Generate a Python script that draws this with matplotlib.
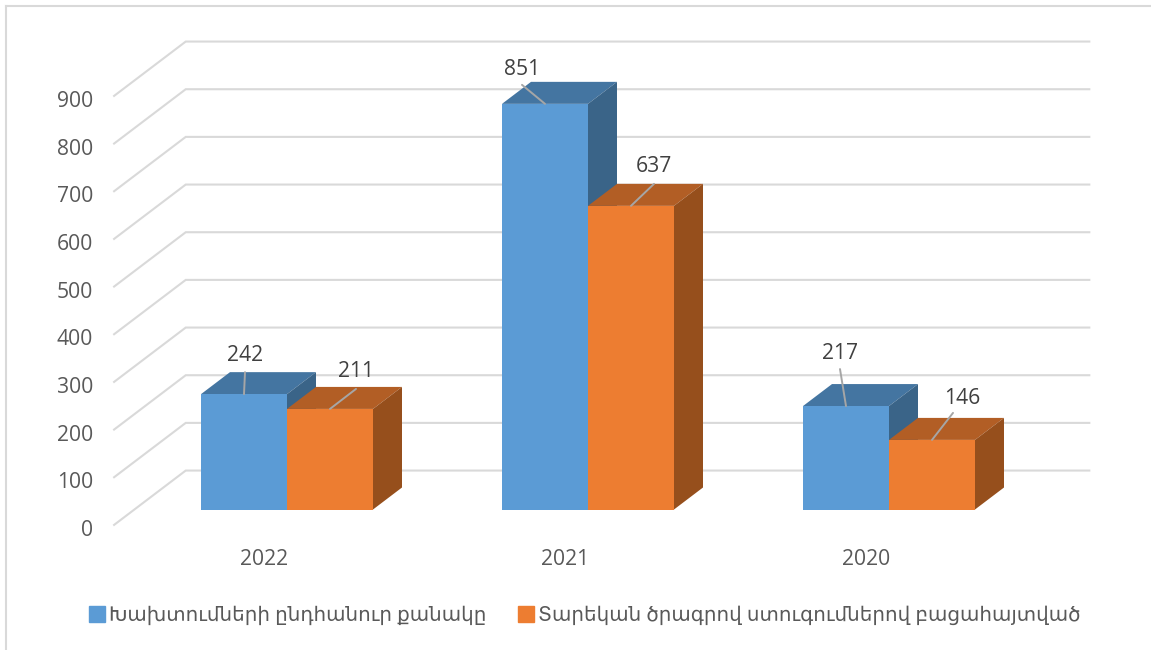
import matplotlib
matplotlib.use("Agg")
import matplotlib.pyplot as plt
from matplotlib.patches import Polygon, Patch

plt.rcParams['font.family'] = ['Open Sans', 'DejaVu Sans']

years = ['2022', '2021', '2020']
total = [242, 851, 217]
annual = [211, 637, 146]
series_names = ['Խախտումների ընդհանուր քանակը',
                'Տարեկան ծրագրով ստուգումներով բացահայտված']
y_ticks = [0, 100, 200, 300, 400, 500, 600, 700, 800, 900]

# label and leader offsets from the top centre of each bar, in pixels
total_label = [(1, 39), (-23, 34), (-6, 53)]
total_leader = [(1, 22), (-23, 19), (-6, 37)]
annual_label = [(26, 37), (23, 39), (30, 41)]
annual_leader = [(26, 20), (23, 22), (21, 27)]

blue = ['#5B9BD5', '#4475A1', '#3A6488']
orange = ['#ED7D31', '#B25E25', '#964F1C']
grid_col = '#D9D9D9'
text_col = '#404040'

px_x = 301.0      # pixels per category
px_y = 429 / 900  # pixels per value unit
bar_w = 86 / px_x
dep_x = 29 / px_x  # one bar depth along x
dep_y = 22 / px_y  # one bar depth along y

fig = plt.figure(figsize=(11.51, 6.5), dpi=100)
ax = fig.add_axes([0, 0, 1, 1])
ax.set_xlim(-287 / px_x, (1151 - 287) / px_x)
ax.set_ylim((509.5 - 650) / px_y, 509.5 / px_y)
ax.axis('off')

# grid: side wall and back wall
d_front, d_back = -0.70, 1.77
x_left, x_right = -0.507, 2.495
for v in y_ticks:
    ax.plot([x_left + d_front * dep_x, x_left + d_back * dep_x, x_right + d_back * dep_x],
            [v + d_front * dep_y, v + d_back * dep_y, v + d_back * dep_y],
            color=grid_col, lw=1.5, zorder=1, solid_joinstyle='miter')
    ax.text(x_left + d_front * dep_x - 21 / px_x, v + d_front * dep_y - 5.5 / px_y, str(v),
            ha='right', va='center', fontsize=15.2, color='#595959')


def draw_bars(vals, x0, cols, labels, leaders, z):
    for i, v in enumerate(vals):
        l = i + x0
        r = l + bar_w
        ax.bar(l, v, width=bar_w, align='edge', color=cols[0], lw=0, zorder=z + 1)
        ax.add_patch(Polygon([(l, v), (r, v), (r + dep_x, v + dep_y), (l + dep_x, v + dep_y)],
                             facecolor=cols[1], lw=0, zorder=z))
        ax.add_patch(Polygon([(r, 0), (r + dep_x, dep_y), (r + dep_x, v + dep_y), (r, v)],
                             facecolor=cols[2], lw=0, zorder=z))
        mid = l + bar_w / 2
        ax.annotate('', xy=(mid, v), xytext=leaders[i], textcoords='offset pixels',
                    arrowprops=dict(arrowstyle='-', color='#A6A6A6', lw=1.4, shrinkA=0, shrinkB=0),
                    zorder=z + 2)
        ax.annotate(str(v), xy=(mid, v), xytext=labels[i], textcoords='offset pixels',
                    ha='center', va='center', fontsize=15.2, color=text_col, zorder=z + 3)


draw_bars(total, -bar_w, blue, total_label, total_leader, 2)
draw_bars(annual, 0, orange, annual_label, annual_leader, 6)

for i, y in enumerate(years):
    ax.text(i + d_front * dep_x - 2.5 / px_x, d_front * dep_y - 34.5 / px_y, y,
            ha='center', va='center', fontsize=15.2, color='#595959')

handles = [Patch(color=blue[0], label=series_names[0]), Patch(color=orange[0], label=series_names[1])]
fig.legend(handles=handles, ncol=2, loc='center', bbox_to_anchor=(0.508, 0.0525), frameon=False,
           fontsize=14.3, labelcolor='#595959', handlelength=0.8, handleheight=0.8,
           handletextpad=0.2, columnspacing=1.6)

# chart frame, only top and left show in the crop
ax.plot([-287 / px_x + 5.5 / px_x] * 2, [(509.5 - 650) / px_y, (509.5 - 5.5) / px_y], color=grid_col, lw=1.5, zorder=0)
ax.plot([-287 / px_x + 5.5 / px_x, (1151 - 287) / px_x], [(509.5 - 5.5) / px_y] * 2, color=grid_col, lw=1.5, zorder=0)

fig.savefig('out.png', dpi=100)
